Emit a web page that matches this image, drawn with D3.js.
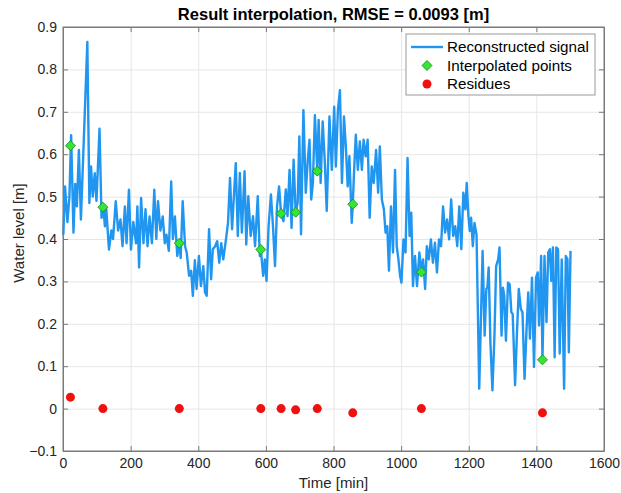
<!DOCTYPE html>
<html>
<head>
<meta charset="utf-8">
<script src="https://cdn.jsdelivr.net/npm/d3@7"></script>
<style>
  body { margin: 0; background: #fff; }
  svg { display: block; font-family: 'Liberation Sans', Arial, sans-serif; }
</style>
</head>
<body>
<main></main>
<script>
// reconstructed signal (time in min, level in m)
const signalTime = [
  1, 6, 13, 19, 24, 31, 36, 41, 47, 53, 72, 78, 83, 88, 94, 99, 108, 114, 119, 124,
  128, 136, 143, 148, 156, 163, 170, 176, 183, 188, 195, 201, 208, 216, 220, 225, 231, 238, 244, 250,
  256, 263, 270, 276, 281, 288, 295, 301, 306, 313, 320, 325, 331, 338, 344, 348, 354, 361, 366, 373,
  379, 384, 390, 395, 402, 408, 415, 420, 425, 432, 438, 443, 450, 456, 462, 468, 474, 482, 488, 494,
  500, 506, 511, 517, 523, 529, 537, 542, 548, 555, 562, 568, 576, 582, 585, 592, 597, 602, 608, 615,
  621, 627, 633, 639, 645, 652, 659, 664, 670, 676, 682, 688, 694, 699, 704, 711, 718, 724, 729, 734,
  739, 745, 752, 756, 762, 768, 774, 780, 788, 795, 802, 807, 813, 819, 825, 831, 837, 842, 847, 854,
  857, 861, 866, 872, 878, 884, 889, 895, 901, 907, 913, 919, 926, 932, 937, 943, 949, 954, 959, 964,
  970, 976, 982, 987, 992, 997, 1001, 1007, 1013, 1019, 1025, 1030, 1035, 1041, 1047, 1054, 1060, 1065, 1071, 1076,
  1082, 1088, 1094, 1100, 1106, 1112, 1118, 1124, 1130, 1136, 1142, 1148, 1154, 1160, 1166, 1172, 1178, 1184, 1190, 1194,
  1199, 1203, 1207, 1212, 1217, 1223, 1231, 1241, 1247, 1252, 1255, 1259, 1264, 1270, 1276, 1281, 1287, 1291, 1297, 1301,
  1305, 1310, 1316, 1321, 1326, 1330, 1337, 1343, 1348, 1354, 1359, 1365, 1371, 1376, 1381, 1387, 1393, 1399, 1404, 1408,
  1414, 1418, 1424, 1430, 1435, 1440, 1444, 1449, 1454, 1459, 1464, 1469, 1475, 1482, 1487, 1492, 1496, 1501
];
const signalLevel = [
  0.41, 0.524, 0.44, 0.50, 0.645, 0.415, 0.53, 0.477, 0.61, 0.446, 0.865, 0.485, 0.571, 0.50, 0.555, 0.49, 0.66, 0.45, 0.477, 0.43,
  0.47, 0.375, 0.42, 0.40, 0.489, 0.42, 0.446, 0.383, 0.477, 0.39, 0.516, 0.375, 0.44, 0.39, 0.477, 0.333, 0.497, 0.39, 0.47, 0.383,
  0.453, 0.39, 0.516, 0.40, 0.489, 0.42, 0.453, 0.39, 0.41, 0.372, 0.536, 0.40, 0.453, 0.36, 0.395, 0.355, 0.489, 0.383, 0.367, 0.313,
  0.325, 0.266, 0.35, 0.282, 0.36, 0.289, 0.336, 0.274, 0.266, 0.423, 0.305, 0.376, 0.383, 0.395, 0.344, 0.39, 0.352, 0.399, 0.438, 0.544,
  0.423, 0.509, 0.579, 0.407, 0.556, 0.415, 0.56, 0.387, 0.501, 0.407, 0.454, 0.383, 0.501, 0.36, 0.376, 0.313, 0.352, 0.301, 0.43, 0.505,
  0.43, 0.336, 0.477, 0.524, 0.46, 0.442, 0.517, 0.454, 0.563, 0.426, 0.587, 0.463, 0.485, 0.642, 0.411, 0.704, 0.509, 0.587, 0.634, 0.493,
  0.532, 0.692, 0.56, 0.681, 0.532, 0.677, 0.587, 0.466, 0.689, 0.563, 0.712, 0.571, 0.704, 0.751, 0.532, 0.689, 0.61, 0.524, 0.595, 0.438,
  0.482, 0.563, 0.646, 0.563, 0.63, 0.563, 0.634, 0.595, 0.634, 0.45, 0.571, 0.532, 0.61, 0.509, 0.618, 0.493, 0.47, 0.415, 0.43, 0.325,
  0.477, 0.368, 0.563, 0.383, 0.352, 0.313, 0.297, 0.399, 0.368, 0.591, 0.407, 0.462, 0.289, 0.36, 0.289, 0.368, 0.322, 0.352, 0.282, 0.383,
  0.352, 0.399, 0.344, 0.391, 0.321, 0.399, 0.383, 0.477, 0.415, 0.446, 0.399, 0.493, 0.407, 0.43, 0.383, 0.477, 0.376, 0.509, 0.47, 0.532,
  0.454, 0.419, 0.45, 0.383, 0.438, 0.41, 0.047, 0.372, 0.172, 0.282, 0.285, 0.333, 0.157, 0.043, 0.172, 0.336, 0.352, 0.38, 0.172, 0.285,
  0.266, 0.16, 0.297, 0.293, 0.227, 0.223, 0.055, 0.188, 0.282, 0.235, 0.227, 0.07, 0.188, 0.274, 0.165, 0.309, 0.098, 0.309, 0.321, 0.196,
  0.36, 0.115, 0.36, 0.204, 0.368, 0.376, 0.301, 0.38, 0.121, 0.38, 0.376, 0.13, 0.352, 0.047, 0.36, 0.352, 0.133, 0.372
];

const pointTime = [22, 118, 344, 585, 645, 688, 752, 857, 1060, 1418];
const pointLevel = [0.62, 0.475, 0.39, 0.375, 0.46, 0.463, 0.56, 0.482, 0.322, 0.115];
const residue = [0.027, 0, 0, 0, 0, -0.003, 0, -0.01, 0, -0.01];

const xTicks = [0, 200, 400, 600, 800, 1000, 1200, 1400, 1600];
const yTicks = [-0.1, 0, 0.1, 0.2, 0.3, 0.4, 0.5, 0.6, 0.7, 0.8, 0.9];

const width = 621;
const height = 493;
const margin = { top: 27, right: 17, bottom: 42, left: 63 };

const lineColor = '#2196f0';
const axisColor = '#7a7a7a';
const gridColor = '#e6e6e6';
const textColor = '#262626';
const font = "'Liberation Sans', Arial, sans-serif";

const x = d3.scaleLinear().domain([0, 1600]).range([margin.left, width - margin.right]);
const y = d3.scaleLinear().domain([-0.1, 0.9]).range([height - margin.bottom, margin.top]);

const svg = d3.select('main')
  .append('svg')
  .attr('width', width)
  .attr('height', height)
  .attr('viewBox', [0, 0, width, height]);

// grid
const grid = svg.append('g');
grid.append('g')
  .attr('transform', `translate(0 ${y(-0.1)})`)
  .call(d3.axisBottom(x).tickValues(xTicks).tickSize(-(y(-0.1) - y(0.9))).tickFormat(''))
  .call(g => g.select('.domain').remove());
grid.append('g')
  .attr('transform', `translate(${x(0)} 0)`)
  .call(d3.axisLeft(y).tickValues(yTicks).tickSize(-(x(1600) - x(0))).tickFormat(''))
  .call(g => g.select('.domain').remove());
grid.selectAll('line').attr('stroke', gridColor);

// axes with inward ticks (MATLAB style)
const axes = svg.append('g');
axes.append('g')
  .attr('transform', `translate(0 ${y(-0.1)})`)
  .call(d3.axisBottom(x).tickValues(xTicks).tickSizeInner(-5).tickSizeOuter(0).tickPadding(7).tickFormat(d3.format('d')));
axes.append('g')
  .attr('transform', `translate(${x(0)} 0)`)
  .call(d3.axisLeft(y).tickValues(yTicks).tickSizeInner(-5).tickSizeOuter(0).tickPadding(6).tickFormat(d => d === 0 ? '0' : d3.format('.1f')(d)));
axes.append('g')
  .attr('transform', `translate(0 ${y(0.9)})`)
  .call(d3.axisTop(x).tickValues(xTicks).tickSizeInner(-5).tickSizeOuter(0).tickFormat(''));
axes.append('g')
  .attr('transform', `translate(${x(1600)} 0)`)
  .call(d3.axisRight(y).tickValues(yTicks).tickSizeInner(-5).tickSizeOuter(0).tickFormat(''));

axes.selectAll('.domain, .tick line').attr('stroke', axisColor);
axes.selectAll('.tick text')
  .attr('fill', textColor)
  .attr('font-size', 14)
  .attr('font-family', font);

// signal
const line = d3.line()
  .x((d, i) => x(signalTime[i]))
  .y(d => y(d));

svg.append('path')
  .datum(signalLevel)
  .attr('d', line)
  .attr('fill', 'none')
  .attr('stroke', lineColor)
  .attr('stroke-width', 2.4)
  .attr('stroke-linejoin', 'round');

const diamond = d3.symbol().type(d3.symbolSquare).size(50);

svg.append('g')
  .selectAll('path')
  .data(pointLevel)
  .join('path')
  .attr('transform', (d, i) => `translate(${x(pointTime[i])} ${y(d)}) rotate(45)`)
  .attr('d', diamond)
  .attr('fill', '#33e633')
  .attr('stroke', '#1c8a1c')
  .attr('stroke-width', 0.8);

svg.append('g')
  .selectAll('circle')
  .data(residue)
  .join('circle')
  .attr('cx', (d, i) => x(pointTime[i]))
  .attr('cy', d => y(d))
  .attr('r', 4.5)
  .attr('fill', '#f01010');

// box
svg.append('rect')
  .attr('x', x(0))
  .attr('y', y(0.9))
  .attr('width', x(1600) - x(0))
  .attr('height', y(-0.1) - y(0.9))
  .attr('fill', 'none')
  .attr('stroke', axisColor);

// labels
svg.append('text')
  .attr('x', (x(0) + x(1600)) / 2)
  .attr('y', 20)
  .attr('text-anchor', 'middle')
  .attr('font-size', 16.5)
  .attr('font-weight', 'bold')
  .attr('fill', '#000')
  .text('Result interpolation, RMSE = 0.0093 [m]');

svg.append('text')
  .attr('x', (x(0) + x(1600)) / 2)
  .attr('y', 488)
  .attr('text-anchor', 'middle')
  .attr('font-size', 15)
  .attr('fill', textColor)
  .text('Time [min]');

svg.append('text')
  .attr('transform', `translate(24 ${(y(-0.1) + y(0.9)) / 2 - 6}) rotate(-90)`)
  .attr('text-anchor', 'middle')
  .attr('font-size', 15)
  .attr('fill', textColor)
  .text('Water level [m]');

// legend
const legend = svg.append('g').attr('transform', 'translate(406 34)');
legend.append('rect')
  .attr('width', 189)
  .attr('height', 61)
  .attr('fill', '#fff')
  .attr('stroke', '#9a9a9a');

const items = ['Reconstructed signal', 'Interpolated points', 'Residues'];
const rows = legend.selectAll('g')
  .data(items)
  .join('g')
  .attr('transform', (d, i) => `translate(0 ${13 + i * 18.5})`);

rows.filter((d, i) => i === 0).append('line')
  .attr('x1', 5).attr('x2', 37)
  .attr('stroke', lineColor).attr('stroke-width', 2.4);
rows.filter((d, i) => i === 1).append('path')
  .attr('transform', 'translate(21 0) rotate(45)')
  .attr('d', diamond)
  .attr('fill', '#33e633')
  .attr('stroke', '#1c8a1c')
  .attr('stroke-width', 0.8);
rows.filter((d, i) => i === 2).append('circle')
  .attr('cx', 21)
  .attr('r', 4.5)
  .attr('fill', '#f01010');

rows.append('text')
  .attr('x', 41)
  .attr('dy', '0.35em')
  .attr('font-size', 15.2)
  .attr('fill', '#000')
  .text(d => d);
</script>
</body>
</html>
